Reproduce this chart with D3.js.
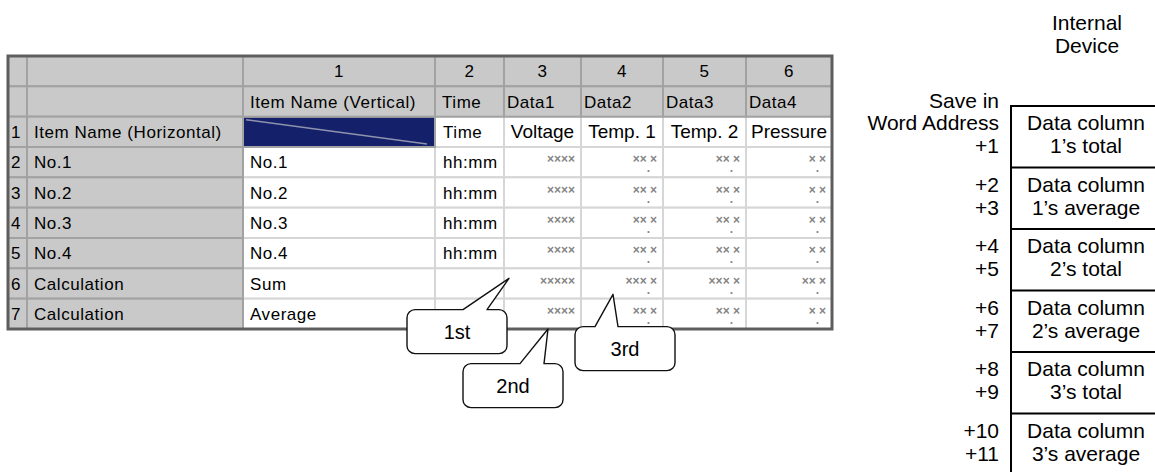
<!DOCTYPE html>
<html><head><meta charset="utf-8">
<script src="https://cdn.jsdelivr.net/npm/d3@7"></script>
<style>body{margin:0;background:#fff}svg{display:block}</style>
</head><body><svg id="c" width="1155" height="472"></svg>
<script>
// ---------- data ----------
const columnNumbers = ["", "", "1", "2", "3", "4", "5", "6"];
const columnHeaders = ["", "", "Item Name (Vertical)", "Time", "Data1", "Data2", "Data3", "Data4"];
const rowNumbers = ["1", "2", "3", "4", "5", "6", "7"];
const rowNames = ["Item Name (Horizontal)", "No.1", "No.2", "No.3", "No.4", "Calculation", "Calculation"];
const verticalNames = ["", "No.1", "No.2", "No.3", "No.4", "Sum", "Average"];
const timeColumn = ["Time", "hh:mm", "hh:mm", "hh:mm", "hh:mm", "", ""];
const dataItems = ["Voltage", "Temp. 1", "Temp. 2", "Pressure"];
const dataFormats = [
  ["****", "**.*", "**.*", "*.*"],
  ["****", "**.*", "**.*", "*.*"],
  ["****", "**.*", "**.*", "*.*"],
  ["****", "**.*", "**.*", "*.*"],
  ["*****", "***.*", "***.*", "**.*"],
  ["****", "**.*", "**.*", "*.*"]
];
const callouts = ["1st", "2nd", "3rd"];
const deviceTitle = ["Internal", "Device"];
const saveLabel = "Save in";
const addressLabels = [["Word Address", "+1"], ["+2", "+3"], ["+4", "+5"], ["+6", "+7"], ["+8", "+9"], ["+10", "+11"]];
const deviceContents = [
  ["Data column", "1\u2019s total"], ["Data column", "1\u2019s average"],
  ["Data column", "2\u2019s total"], ["Data column", "2\u2019s average"],
  ["Data column", "3\u2019s total"], ["Data column", "3\u2019s average"]
];

// ---------- layout ----------
const svg = d3.select("#c");
const colWidths = [19, 216, 192, 69, 77, 82, 83, 86];
const tableLeft = 8;
const colEdges = [tableLeft, ...Array.from(d3.cumsum(colWidths), v => v + tableLeft)];
const x = i => colEdges[i];
const w = i => colWidths[i];
const nRows = 2 + rowNames.length;
const y = d3.scaleBand().domain(d3.range(nRows)).range([56, 329]);
const rh = y.bandwidth();

const GRAY = "#c9c9c9", NAVY = "#14206a";
const afont = "Liberation Sans, Arial, sans-serif";

// cells
const cells = [];
for (let r = 0; r < nRows; r++) for (let c = 0; c < colWidths.length; c++) {
  let type = (r < 2 || c < 2) ? "gray" : "white";
  if (r === 2 && c === 2) type = "navy";
  cells.push({r, c, type});
}
const order = {white: 0, navy: 1, gray: 2};
svg.append("g").selectAll("rect").data(cells.sort((a, b) => order[a.type] - order[b.type])).join("rect")
  .attr("x", d => x(d.c)).attr("y", d => y(d.r))
  .attr("width", d => w(d.c)).attr("height", rh)
  .attr("fill", d => d.type === "gray" ? GRAY : d.type === "navy" ? NAVY : "#fff")
  .attr("stroke", d => d.type === "white" ? "#d6d6d6" : "#a2a2a2")
  .attr("stroke-width", 2);

// diagonal in navy cell
svg.append("line")
  .attr("x1", x(2) + 3).attr("y1", y(2) + 3)
  .attr("x2", x(3) - 8).attr("y2", y(2) + rh - 3)
  .attr("stroke", "#8f93ad").attr("stroke-width", 1.5);

// outer border
svg.append("rect")
  .attr("x", tableLeft).attr("y", y(0))
  .attr("width", colEdges[colEdges.length - 1] - tableLeft).attr("height", rh * nRows)
  .attr("fill", "none").attr("stroke", "#5e5e5e").attr("stroke-width", 3);

const base = r => y(r) + rh / 2 + 6;
const T = svg.append("g").attr("font-family", afont).attr("font-size", 17)
  .attr("letter-spacing", 0.55).attr("fill", "#000");

T.selectAll(".cn").data(columnNumbers).join("text")
  .attr("x", (d, i) => x(i) + w(i) / 2).attr("y", base(0))
  .attr("text-anchor", "middle").text(d => d);
T.selectAll(".ch").data(columnHeaders).join("text")
  .attr("x", (d, i) => x(i) + (i >= 4 ? 3 : 7)).attr("y", base(1)).text(d => d);
T.selectAll(".rn").data(rowNumbers).join("text")
  .attr("x", x(0) + 3).attr("y", (d, i) => base(i + 2)).text(d => d);
T.selectAll(".rnm").data(rowNames).join("text")
  .attr("x", x(1) + 7).attr("y", (d, i) => base(i + 2)).text(d => d);
T.selectAll(".vn").data(verticalNames).join("text")
  .attr("x", x(2) + 7).attr("y", (d, i) => base(i + 2)).text(d => d);
T.selectAll(".tc").data(timeColumn).join("text")
  .attr("x", x(3) + 8).attr("y", (d, i) => base(i + 2)).text(d => d);
svg.append("g").attr("font-family", afont).attr("font-size", 19)
  .selectAll("text").data(dataItems).join("text")
  .attr("x", (d, i) => x(i + 4) + w(i + 4) / 2).attr("y", base(2) + 0.5)
  .attr("text-anchor", "middle").text(d => d);

// data format placeholders
const fmt = svg.append("g").attr("font-family", afont).attr("font-size", 12)
  .attr("font-weight", "bold").attr("fill", "#858585");
dataFormats.forEach((row, ri) => {
  row.forEach((f, ci) => {
    const t = fmt.append("text")
      .attr("x", x(ci + 4) + w(ci + 4) - 6)
      .attr("y", y(ri + 3) + rh / 2 + 1)
      .attr("text-anchor", "end");
    const parts = f.split(".");
    t.append("tspan").text(parts[0].replace(/\*/g, "\u00d7"));
    if (parts.length > 1) {
      t.append("tspan").attr("dy", 9).text(".");
      t.append("tspan").attr("dy", -9).text(parts[1].replace(/\*/g, "\u00d7"));
    }
  });
});

// callouts (positioned relative to the table cells they point to)
const calloutSpecs = [
  {bx: x(4) - 97, by: y(8) + 11, tailL: 56, tailR: 80, tx: x(4) + 5, ty: y(7) + 10},
  {bx: x(4) - 41, by: y(8) + 65, tailL: 57, tailR: 81, tx: x(4) + 44, ty: y(8) + rh},
  {bx: x(5) - 6,  by: y(8) + 28, tailL: 20, tailR: 43, tx: x(5) + 32, ty: y(7) + 26}
];
function calloutPath(s, bw, bh, r) {
  const X = s.bx, Y = s.by;
  return `M${X + r},${Y} L${X + s.tailL},${Y} L${s.tx},${s.ty} L${X + s.tailR},${Y} L${X + bw - r},${Y}`
    + ` A${r},${r} 0 0 1 ${X + bw},${Y + r} L${X + bw},${Y + bh - r}`
    + ` A${r},${r} 0 0 1 ${X + bw - r},${Y + bh} L${X + r},${Y + bh}`
    + ` A${r},${r} 0 0 1 ${X},${Y + bh - r} L${X},${Y + r}`
    + ` A${r},${r} 0 0 1 ${X + r},${Y} Z`;
}
const cg = svg.append("g");
cg.selectAll("path").data(calloutSpecs).join("path")
  .attr("d", s => calloutPath(s, 100, 44, 8))
  .attr("fill", "#fff").attr("stroke", "#111").attr("stroke-width", 1.4)
  .attr("stroke-linejoin", "round");
cg.selectAll("text").data(calloutSpecs).join("text")
  .attr("x", s => s.bx + 50).attr("y", s => s.by + 29)
  .attr("text-anchor", "middle").attr("font-family", afont).attr("font-size", 20)
  .text((s, i) => callouts[i]);

// right side: internal device
const boxLeft = 1011, boxCenter = 1086, labelRight = 999;
const by = d3.scaleBand().domain(d3.range(deviceContents.length)).range([106, 106 + 61.5 * deviceContents.length]);
const R = svg.append("g").attr("font-family", afont).attr("font-size", 21).attr("fill", "#000");
R.selectAll(".dt").data(deviceTitle).join("text")
  .attr("x", 1087).attr("y", (d, i) => 30 + i * 23).attr("text-anchor", "middle").text(d => d);
R.append("text").attr("x", labelRight).attr("y", by(0) + 2).attr("text-anchor", "end").text(saveLabel);
R.selectAll("line.h").data(deviceContents).join("line")
  .attr("x1", boxLeft).attr("x2", 1160).attr("y1", (d, i) => by(i)).attr("y2", (d, i) => by(i))
  .attr("stroke", "#000").attr("stroke-width", 2);
R.append("line").attr("x1", boxLeft).attr("x2", boxLeft).attr("y1", by(0) - 1).attr("y2", 480)
  .attr("stroke", "#000").attr("stroke-width", 2);
deviceContents.forEach((lines, i) => {
  lines.forEach((t, j) => {
    R.append("text").attr("x", boxCenter).attr("y", by(i) + 24 + j * 23)
      .attr("text-anchor", "middle").text(t);
    R.append("text").attr("x", labelRight).attr("y", by(i) + 24 + j * 23)
      .attr("text-anchor", "end").text(addressLabels[i][j]);
  });
});
</script></body></html>
